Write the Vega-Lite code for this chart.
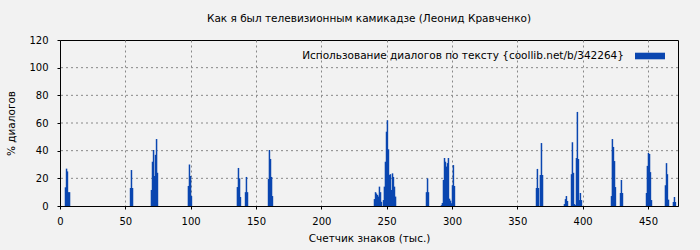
{
  "$schema": "https://vega.github.io/schema/vega-lite/v6.json",
  "width": 618,
  "height": 166,
  "autosize": "none",
  "padding": {"left": 60, "top": 40, "right": 22, "bottom": 44},
  "background": "#f2f2f2",
  "config": {
    "font": "DejaVu Sans",
    "view": {"stroke": "#000000", "strokeWidth": 1},
    "axis": {
      "labelFontSize": 10,
      "titleFontSize": 10.5,
      "titleFontWeight": "normal",
      "labelColor": "#000000",
      "titleColor": "#000000",
      "domainColor": "#000000",
      "tickColor": "#000000",
      "tickSize": 3,
      "labelOverlap": false
    }
  },
  "title": {
    "text": "Как я был телевизионным камикадзе (Леонид Кравченко)",
    "fontSize": 10.5,
    "fontWeight": "normal",
    "color": "#000000",
    "offset": 11
  },
  "layer": [
    {
      "data": {"values": [{"g": 20}, {"g": 40}, {"g": 60}, {"g": 80}, {"g": 100}]},
      "mark": {"type": "rule", "color": "#888888", "strokeDash": [2, 3], "strokeWidth": 1},
      "encoding": {
        "y": {
          "field": "g",
          "type": "quantitative",
          "scale": {"domain": [0, 120], "nice": false},
          "axis": {
            "values": [0, 20, 40, 60, 80, 100, 120],
            "title": "% диалогов",
            "grid": false,
            "labelOverlap": false,
            "labelPadding": 9,
            "titlePadding": 12,
            "labelFlush": false
          }
        }
      }
    },
    {
      "data": {
        "values": [
          {"k": 4.2, "p": 13.5}, {"k": 5.0, "p": 27}, {"k": 5.7, "p": 25}, {"k": 6.5, "p": 10}, {"k": 7.3, "p": 10},
          {"k": 54.0, "p": 13}, {"k": 54.7, "p": 26}, {"k": 55.5, "p": 13},
          {"k": 70.0, "p": 11.6}, {"k": 70.8, "p": 32}, {"k": 71.6, "p": 40.5}, {"k": 72.3, "p": 21.7}, {"k": 73.1, "p": 37}, {"k": 73.9, "p": 48.4}, {"k": 74.6, "p": 24},
          {"k": 98.3, "p": 14.5}, {"k": 99.1, "p": 30}, {"k": 99.9, "p": 21.7}, {"k": 100.6, "p": 7.2},
          {"k": 135.8, "p": 13.7}, {"k": 136.6, "p": 27.5}, {"k": 137.4, "p": 20}, {"k": 138.1, "p": 6.5},
          {"k": 142.0, "p": 10}, {"k": 142.7, "p": 21}, {"k": 143.5, "p": 10},
          {"k": 159.6, "p": 19.5}, {"k": 160.3, "p": 40.5}, {"k": 161.1, "p": 34}, {"k": 161.9, "p": 21}, {"k": 162.6, "p": 7.2},
          {"k": 240.7, "p": 5}, {"k": 241.5, "p": 10}, {"k": 242.2, "p": 9}, {"k": 243.0, "p": 8}, {"k": 243.8, "p": 6.8}, {"k": 244.5, "p": 14}, {"k": 245.3, "p": 10}, {"k": 246.0, "p": 3},
          {"k": 247.6, "p": 4.3}, {"k": 248.3, "p": 14}, {"k": 249.1, "p": 32}, {"k": 249.9, "p": 53.7}, {"k": 250.6, "p": 62}, {"k": 251.4, "p": 41}, {"k": 252.2, "p": 22.4}, {"k": 252.9, "p": 23}, {"k": 253.7, "p": 11.6}, {"k": 254.5, "p": 23.6}, {"k": 255.2, "p": 21}, {"k": 256.0, "p": 14}, {"k": 256.8, "p": 6.8},
          {"k": 280.5, "p": 10}, {"k": 281.3, "p": 20}, {"k": 282.0, "p": 10},
          {"k": 292.0, "p": 0.6}, {"k": 292.7, "p": 2.2}, {"k": 293.5, "p": 18.8}, {"k": 294.3, "p": 34.7}, {"k": 295.0, "p": 32}, {"k": 295.8, "p": 28.5}, {"k": 296.6, "p": 31}, {"k": 297.3, "p": 34.7}, {"k": 298.1, "p": 5.3}, {"k": 298.9, "p": 3.9}, {"k": 299.6, "p": 2}, {"k": 300.4, "p": 15}, {"k": 301.1, "p": 29.6}, {"k": 301.9, "p": 14.5},
          {"k": 364.7, "p": 13}, {"k": 365.4, "p": 26.8}, {"k": 366.2, "p": 13},
          {"k": 367.7, "p": 22.4}, {"k": 368.5, "p": 45.5}, {"k": 369.3, "p": 22.4},
          {"k": 386.1, "p": 1.4}, {"k": 386.9, "p": 5}, {"k": 387.6, "p": 7.2}, {"k": 388.4, "p": 3.6},
          {"k": 391.5, "p": 23}, {"k": 392.2, "p": 46}, {"k": 393.0, "p": 24}, {"k": 393.7, "p": 1.4}, {"k": 394.5, "p": 0.7}, {"k": 395.3, "p": 34.7}, {"k": 396.0, "p": 68}, {"k": 396.8, "p": 34}, {"k": 397.6, "p": 4.3}, {"k": 398.3, "p": 9.4}, {"k": 399.1, "p": 4.3},
          {"k": 422.1, "p": 7.2}, {"k": 422.8, "p": 48.4}, {"k": 423.6, "p": 42.7}, {"k": 424.4, "p": 32.5}, {"k": 425.1, "p": 13.7},
          {"k": 429.0, "p": 9.4}, {"k": 429.7, "p": 18.8}, {"k": 430.5, "p": 9.4},
          {"k": 448.9, "p": 9.4}, {"k": 449.6, "p": 29}, {"k": 450.4, "p": 38.3}, {"k": 451.2, "p": 37.6}, {"k": 451.9, "p": 24.5}, {"k": 452.7, "p": 4.3},
          {"k": 463.4, "p": 15}, {"k": 464.2, "p": 31}, {"k": 464.9, "p": 23}, {"k": 465.7, "p": 4.6},
          {"k": 469.5, "p": 2.9}, {"k": 470.3, "p": 6.5}, {"k": 471.0, "p": 2.9}
        ]
      },
      "mark": {"type": "bar", "width": 1.5},
      "encoding": {
        "x": {
          "field": "k",
          "type": "quantitative",
          "scale": {"domain": [0, 473], "nice": false, "zero": false, "padding": 0},
          "axis": {
            "values": [0, 50, 100, 150, 200, 250, 300, 350, 400, 450],
            "title": "Счетчик знаков (тыс.)",
            "grid": true,
            "gridColor": "#888888",
            "gridDash": [2, 3],
            "gridWidth": 1,
            "labelPadding": 7,
            "titlePadding": 7,
            "labelFlush": false
          }
        },
        "y": {
          "field": "p",
          "type": "quantitative",
          "scale": {"domain": [0, 120], "nice": false},
          "axis": {
            "values": [0, 20, 40, 60, 80, 100, 120],
            "title": "% диалогов",
            "grid": false,
            "labelOverlap": false,
            "labelPadding": 9,
            "titlePadding": 12,
            "labelFlush": false
          }
        },
        "color": {
          "datum": "Использование диалогов по тексту {coollib.net/b/342264}",
          "type": "nominal",
          "scale": {"range": ["#0a46b0"]},
          "legend": {
            "title": null,
            "orient": "none",
            "legendX": 575,
            "legendY": 1,
            "padding": 0,
            "symbolType": "M-1,-0.22H1V0.22H-1Z",
            "symbolSize": 900,
            "symbolStrokeWidth": 0,
            "symbolOpacity": 1,
            "labelFontSize": 10.5,
            "labelColor": "#000000",
            "labelLimit": 500,
            "labelAlign": "right",
            "labelOffset": -41
          }
        }
      }
    }
  ]
}
